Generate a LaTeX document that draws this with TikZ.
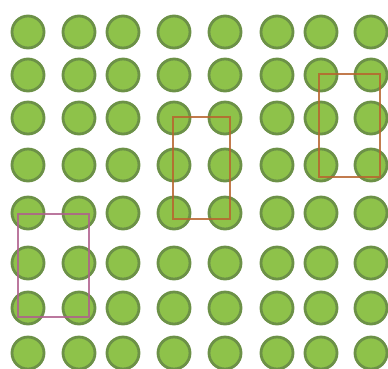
\documentclass[tikz,border=0pt]{standalone}
\begin{document}
\begin{tikzpicture}[x=1pt,y=-1pt,
  dot/.style={circle,draw=ringgreen,fill=dotgreen,line width=2.8pt,minimum size=32pt,inner sep=0pt},
  boxo/.style={draw=boxorange,line width=2.2pt,draw opacity=0.85},
  boxm/.style={draw=boxmauve,line width=2.2pt,draw opacity=0.85}]
\definecolor{dotgreen}{HTML}{8EC24A}
\definecolor{ringgreen}{HTML}{6C9147}
\definecolor{boxorange}{HTML}{B8652E}
\definecolor{boxmauve}{HTML}{B0608E}
\useasboundingbox (0,0) rectangle (388,368);
\fill[white] (0,0) rectangle (388,368);
\foreach \c/\x in {0/28,1/79,2/123,3/174,4/225,5/277,6/321,7/371}{
  \foreach \r/\y in {0/32,1/75,2/118,3/165,4/213,5/263,6/308,7/353}{
    \node[dot] (d\c\r) at (\x,\y) {};
  }
}
\draw[boxo] (173,117) rectangle (230,219);
\draw[boxo] (319,74) rectangle (380,177);
\draw[boxm] (18,214) rectangle (89,317);
\end{tikzpicture}
\end{document}
